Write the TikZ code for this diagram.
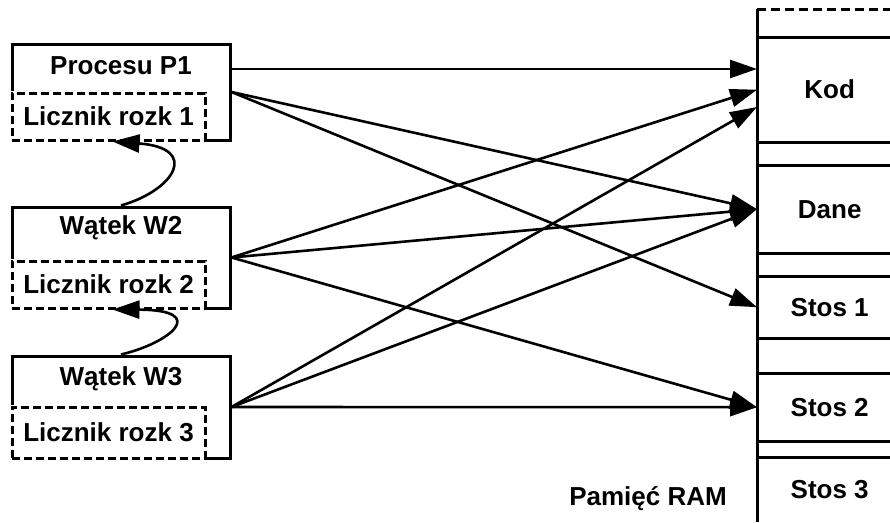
\documentclass[tikz,border=0pt]{standalone}
\usepackage{fontspec}
\setmainfont{Liberation Sans}
\usetikzlibrary{arrows.meta,positioning}

\begin{document}
\begin{tikzpicture}[x=1pt, y=-1pt,
	tekst/.style={font=\bfseries\fontsize{26}{30}\selectfont},
	box/.style={draw, line width=3pt, minimum width=218pt, minimum height=#1, inner sep=0pt},
	licznik/.style={draw, fill=white, line width=3pt, dash pattern=on 8pt off 4pt,
		preaction={draw=white, solid, line width=3.5pt},
		minimum width=193pt, minimum height=#1, inner sep=0pt, anchor=south west},
	seg/.style={minimum width=145pt, minimum height=#1, inner sep=0pt, anchor=north west},
	ptr/.style={line width=2.6pt, -{Triangle[length=27pt, width=18pt]}}
]
\useasboundingbox (0, 0) rectangle (890, 522);

%procesy i watki
\node[box=96pt] (p1) at (121, 92) {};
\node[licznik=47pt, tekst] (lr1) at (p1.south west) {Licznik rozk 1};
\node[tekst] (t1) at (121, 65.5) {Procesu P1};

\node[box=101pt] (w2) at (121, 257.5) {};
\node[licznik=47pt, tekst] (lr2) at (w2.south west) {Licznik rozk 2};
\node[tekst] (t2) at (121, 228) {Wątek W2};

\node[box=102pt] (w3) at (121, 407) {};
\node[licznik=51pt, tekst] (lr3) at (w3.south west) {Licznik rozk 3};
\node[tekst] (t3) at (121, 379) {Wątek W3};

\draw[ptr] (w2.north) .. controls (175, 190) and (200, 148) .. ([xshift=4pt]lr1.south);
\draw[ptr] (w3.north) .. controls (170, 343) and (210, 310) .. ([xshift=4pt]lr2.south);

%pamiec
\draw[line width=3pt] (757, 9) -- (757, 522);
\draw[line width=3pt, dash pattern=on 9pt off 5pt] (757, 9) -- (890, 9);

\node[seg=105pt, tekst] (kod) at (757, 37) {Kod};
\node[seg=88pt, tekst] (dane) at (757, 165) {Dane};
\node[seg=62pt, tekst] (stos1) at (757, 276) {Stos 1};
\node[seg=68pt, tekst] (stos2) at (757, 373) {Stos 2};
\node[seg=65pt, tekst] (stos3) at (757, 457) {Stos 3};

\foreach \s in {kod, dane, stos1, stos2} {
	\draw[line width=3pt] (\s.north west) -- ++(133, 0);
	\draw[line width=3pt] (\s.south west) -- ++(133, 0);
}
\draw[line width=3pt] (stos3.north west) -- ++(133, 0);

\node[tekst] (ram) at (648, 499) {Pamięć RAM};

%odwolania
\coordinate (p1a) at (230, 69);
\coordinate (kodA) at (757, 69);
\coordinate (kodC) at (757, 107);

\draw[ptr] (p1a) -- (kodA);
\draw[ptr] (p1.east) -- (dane.west);
\draw[ptr] (p1.east) -- (stos1.west);
\draw[ptr] (w2.east) -- (kod.west);
\draw[ptr] (w2.east) -- (dane.west);
\draw[ptr] (w2.east) -- (stos2.west);
\draw[ptr] (w3.east) -- (kodC);
\draw[ptr] (w3.east) -- (dane.west);
\draw[ptr] (w3.east) -- (stos2.west);

\end{tikzpicture}
\end{document}
